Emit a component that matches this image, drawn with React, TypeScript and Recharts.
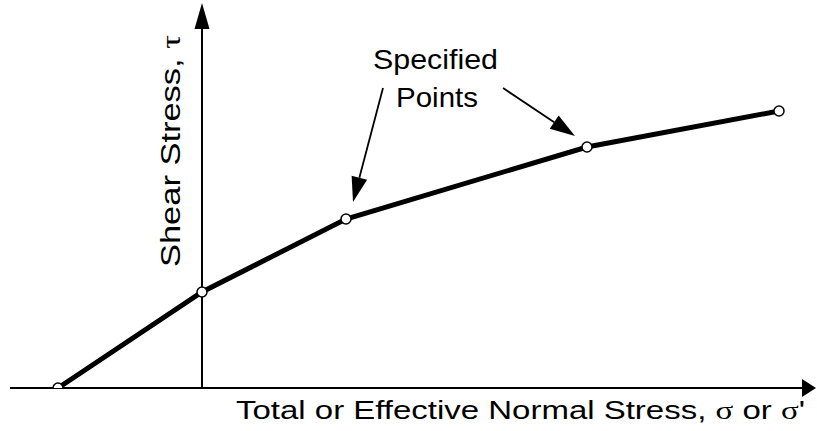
import { LineChart, Line, XAxis, YAxis, ReferenceLine } from 'recharts';

// normal stress (sigma) and shear stress (tau) of the specified points, arbitrary units
const sigma = [-14.4, 0, 14.4, 38.5, 57.7];
const tau = [0, 9.6, 16.9, 24.1, 27.7];

const xDomain = [-19.2, 61.4];
const yDomain = [0, 38.5];

// callout arrows: tail then tip, in data units
const calloutLeft = [
  { x: 18.1, y: 30.0 },
  { x: 15.1, y: 18.6 },
];
const calloutRight = [
  { x: 30.1, y: 30.0 },
  { x: 37.3, y: 25.2 },
];

const envelope = sigma.map((s, i) => ({ sigma: s, tau: tau[i] }));

const FONT = '"Liberation Sans", Arial, sans-serif';
const SERIF = '"Liberation Serif", "Times New Roman", serif';

function arrow(x1: number, y1: number, x2: number, y2: number, headLen: number, halfW: number, sw: number) {
  const len = Math.hypot(x2 - x1, y2 - y1) || 1;
  const ux = (x2 - x1) / len;
  const uy = (y2 - y1) / len;
  const bx = x2 - ux * headLen;
  const by = y2 - uy * headLen;
  const px = -uy * halfW;
  const py = ux * halfW;
  return (
    <g>
      <line x1={x1} y1={y1} x2={bx} y2={by} stroke="#000" strokeWidth={sw} />
      <polygon points={`${x2},${y2} ${bx + px},${by + py} ${bx - px},${by - py}`} fill="#000" />
    </g>
  );
}

// axis lines: arrow goes to the right / to the top
const HorizontalAxis = (p: any) => {
  const left = Math.min(p.x1, p.x2);
  const right = Math.max(p.x1, p.x2);
  return arrow(left, p.y1, right, p.y1, 14, 9, 2);
};
const VerticalAxis = (p: any) => {
  const bottom = Math.max(p.y1, p.y2);
  const top = Math.min(p.y1, p.y2);
  return arrow(p.x1, bottom, p.x1, top, 26, 7.5, 2);
};
const Callout = (p: any) => arrow(p.x1, p.y1, p.x2, p.y2, 25, 8, 1.8);

export default function App() {
  return (
    <div style={{ position: 'absolute', left: 0, top: 0, width: 817, height: 431, background: '#fff' }}>
      <LineChart
        width={817}
        height={431}
        data={envelope}
        margin={{ top: 3, right: 1, bottom: 43, left: 10 }}
      >
        <XAxis type="number" dataKey="sigma" domain={xDomain} hide allowDataOverflow />
        <YAxis type="number" domain={yDomain} hide allowDataOverflow />
        <ReferenceLine y={0} shape={HorizontalAxis} zIndex={-1} />
        <ReferenceLine x={0} shape={VerticalAxis} zIndex={-1} />
        <ReferenceLine segment={calloutLeft} shape={Callout} ifOverflow="visible" />
        <ReferenceLine segment={calloutRight} shape={Callout} ifOverflow="visible" />
        <Line
          type="linear"
          dataKey="tau"
          stroke="#000"
          strokeWidth={5}
          dot={{ r: 5, fill: '#fff', stroke: '#000', strokeWidth: 1.5 }}
          isAnimationActive={false}
        />
        <text x={373} y={69} fontFamily={FONT} fontSize={28} fill="#000" textLength={125} lengthAdjust="spacingAndGlyphs">
          Specified
        </text>
        <text x={396} y={107} fontFamily={FONT} fontSize={28} fill="#000" textLength={82} lengthAdjust="spacingAndGlyphs">
          Points
        </text>
        <text
          transform="translate(180,267) rotate(-90)"
          fontFamily={FONT}
          fontSize={27}
          fill="#000"
          textLength={232}
          lengthAdjust="spacingAndGlyphs"
        >
          Shear Stress, <tspan fontFamily={SERIF}>τ</tspan>
        </text>
        <text x={236} y={419} fontFamily={FONT} fontSize={25} fill="#000" textLength={569} lengthAdjust="spacingAndGlyphs">
          Total or Effective Normal Stress, <tspan fontFamily={SERIF}>σ</tspan> or <tspan fontFamily={SERIF}>σ</tspan>'
        </text>
      </LineChart>
    </div>
  );
}
